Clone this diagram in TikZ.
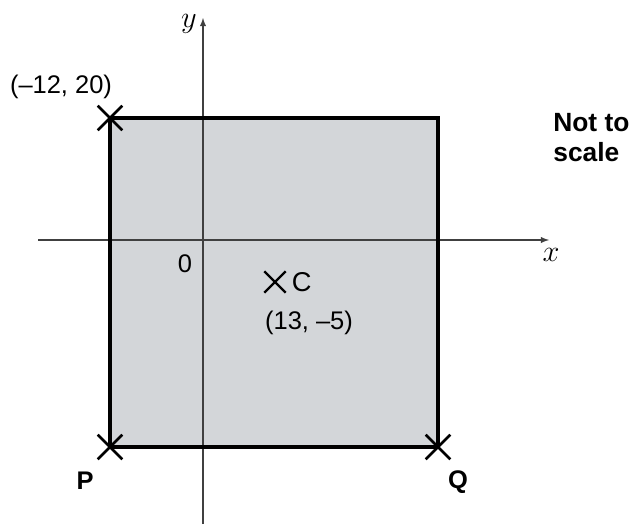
\documentclass[tikz,border=0pt]{standalone}
\usepackage{fontspec}
\setsansfont{Liberation Sans}
\usetikzlibrary{shapes.misc,arrows,positioning}
\definecolor{sqgray}{HTML}{D3D6D9}
\tikzstyle{crs}=[cross out,draw,line width=1.5pt,minimum size=0.44cm,inner sep=0pt]
\tikzstyle{axis}=[-latex,line width=0.6pt,draw=black!75]
\tikzstyle{lbl}=[font=\sffamily\fontsize{14.5}{16}\selectfont]
\tikzstyle{bold}=[font=\sffamily\bfseries\fontsize{14.5}{16}\selectfont]
\begin{document}
\begin{tikzpicture}[x=0.02cm,y=-0.02cm]
\useasboundingbox (0,0) rectangle (635,524);
\coordinate (TL) at (110,118);
\coordinate (BR) at (438,447);
\fill[sqgray] (TL) rectangle (BR);
\coordinate (xl) at (38,240);
\coordinate (xr) at (549,240);
\coordinate (yb) at (203,524);
\coordinate (yt) at (203,18);
\draw[axis] (xl) -- (xr);
\draw[axis] (yb) -- (yt);
\draw[line width=2.2pt] (TL) rectangle (BR);
\node[crs] (A) at (110,118) {};
\node[crs] (P) at (110,447) {};
\node[crs] (Q) at (438,447) {};
\node[crs,line width=1.4pt,minimum size=0.38cm] (C) at (275,282) {};
\node[font=\LARGE] at (551,255) (xlab) {$x$};
\node[font=\LARGE] at (189,24) (ylab) {$y$};
\node[lbl] at (185,264) (O) {0};
\node[lbl,font=\sffamily\fontsize{15.5}{17}\selectfont,right=0pt of C] (Clab) {C};
\node[lbl] at (309,323) (Ccoord) {(13, --5)};
\node[lbl] at (61,87) (Acoord) {(--12, 20)};
\node[bold] at (85,481) (Plab) {P};
\node[bold] at (458,482) (Qlab) {Q};
\node[bold,align=left,anchor=north west,inner sep=0pt,font=\sffamily\bfseries\fontsize{15}{17}\selectfont] at (553,113) (note) {Not to\\scale};
\end{tikzpicture}
\end{document}
